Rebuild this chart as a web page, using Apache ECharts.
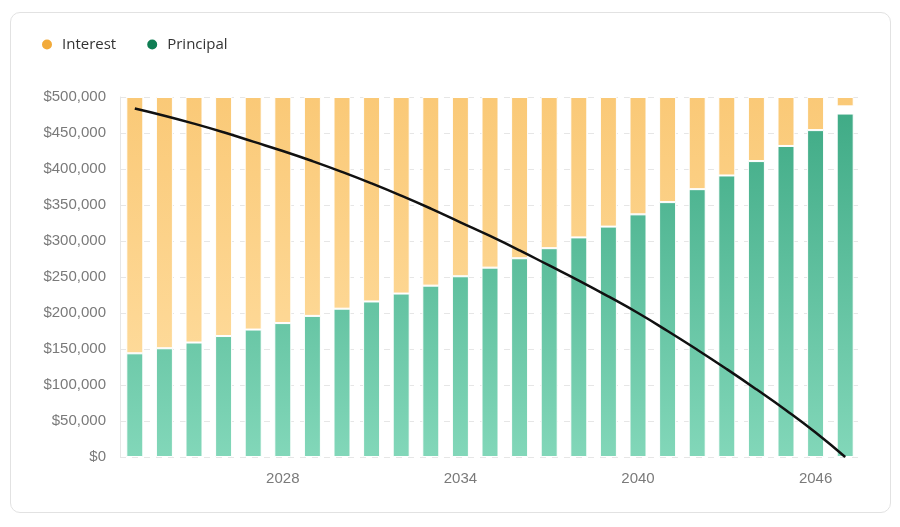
<!DOCTYPE html>
<html>
<head>
<meta charset="utf-8">
<script src="https://cdn.jsdelivr.net/npm/echarts@6/dist/echarts.min.js"></script>
<style>
  html, body { margin: 0; padding: 0; background: #fff; }
  #card { position: absolute; left: 10px; top: 12px; width: 881px; height: 501px; border: 1px solid #e2e2e2; border-radius: 10px; box-sizing: border-box; }
  #chart { position: absolute; left: 0; top: 0; width: 900px; height: 527px; }
</style>
</head>
<body>
<div id="card"></div>
<div id="chart"></div>
<script>
const years = ['2023','2024','2025','2026','2027','2028','2029','2030','2031','2032','2033','2034','2035','2036','2037','2038','2039','2040','2041','2042','2043','2044','2045','2046','2047'];
const principal = [144000,151000,159000,168000,177000,186000,196000,206000,216000,227000,238000,251000,263000,276000,290000,305000,320000,337000,354000,372000,391000,411000,432000,454000,477000];
const interest = [356000,349000,341000,332000,323000,314000,304000,294000,284000,273000,262000,249000,237000,224000,210000,195000,180000,163000,146000,128000,109000,89000,68000,46000,13000];
const balance = [484000,474000,463000,451000,438000,425000,411000,396000,380000,363000,345000,326000,307000,287000,266000,245000,223000,200000,175000,149000,122000,94000,65000,34000,0];
const yTicks = { min: 0, max: 500000, interval: 50000 };
const shownYearLabels = ['2028','2034','2040','2046'];

const gap = principal.map((p, i) => Math.max(0, yTicks.max - p - interest[i]));

const chart = echarts.init(document.getElementById('chart'), null, { renderer: 'canvas' });
const gTop = 97, gBot = 457;
const greenGrad = new echarts.graphic.LinearGradient(0, gTop, 0, gBot, [
  { offset: 0, color: '#3da984' },
  { offset: 1, color: '#82d7b9' }
], true);
const orangeGrad = new echarts.graphic.LinearGradient(0, gTop, 0, gBot, [
  { offset: 0, color: '#fac977' },
  { offset: 1, color: '#ffe0a6' }
], true);

chart.setOption({
  animation: false,
  textStyle: { fontFamily: 'Liberation Sans, Arial, sans-serif' },
  legend: {
    left: 35, top: 32,
    icon: 'circle', itemWidth: 20, itemHeight: 12, itemGap: 29,
    textStyle: { fontFamily: 'Open Sans, Lato, sans-serif', fontSize: 15, color: '#333' },
    data: [
      { name: 'Interest', itemStyle: { color: '#f2aa3a' } },
      { name: 'Principal', itemStyle: { color: '#0f7d53' } }
    ]
  },
  grid: { left: 120, right: 40, top: 97, bottom: 70, containLabel: false },
  xAxis: {
    type: 'category',
    data: years,
    axisLine: { show: false },
    axisTick: { show: false },
    axisLabel: {
      color: '#7a7a7a', fontSize: 15, margin: 14,
      interval: (idx, val) => shownYearLabels.indexOf(val) >= 0
    }
  },
  yAxis: {
    type: 'value',
    min: yTicks.min, max: yTicks.max, interval: yTicks.interval,
    axisLine: { show: true, lineStyle: { color: '#e6e6e6' } },
    axisTick: { show: false },
    axisLabel: {
      color: '#7a7a7a', fontSize: 15, margin: 14,
      formatter: v => '$' + v.toLocaleString('en-US')
    },
    splitLine: { show: true, lineStyle: { color: '#e6e6e6', type: [6, 6] } }
  },
  series: [
    {
      name: 'Principal', type: 'bar', stack: 'total', data: principal,
      barWidth: 17,
      itemStyle: { color: greenGrad, borderColor: '#fff', borderWidth: 1 }
    },
    {
      name: 'gap', type: 'bar', stack: 'total', data: gap,
      itemStyle: { color: 'rgba(0,0,0,0)' }, silent: true
    },
    {
      name: 'Interest', type: 'bar', stack: 'total', data: interest,
      itemStyle: { color: orangeGrad, borderColor: '#fff', borderWidth: 1 }
    },
    {
      name: 'Balance', type: 'line', data: balance, smooth: true,
      showSymbol: false, symbol: 'none',
      lineStyle: { color: '#111', width: 2.5 },
      z: 5
    }
  ]
});
</script>
</body>
</html>
